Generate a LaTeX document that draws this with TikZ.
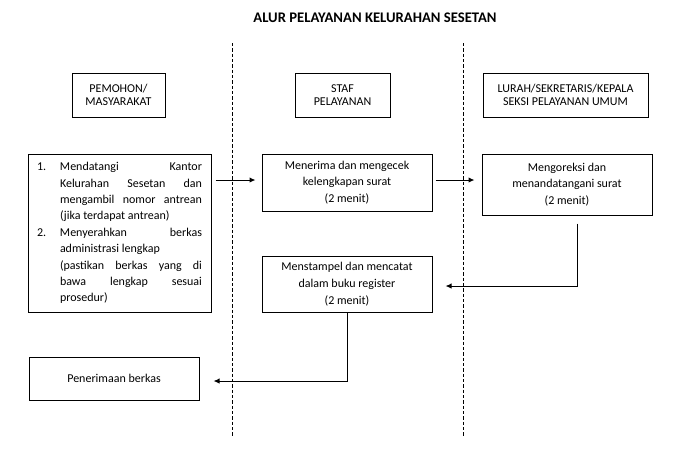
\documentclass[tikz,border=0pt]{standalone}
\usepackage{fontspec}
\setmainfont{Carlito}
\usetikzlibrary{arrows.meta,calc}
\begin{document}
\begin{tikzpicture}[x=0.75pt,y=-0.75pt,
  box/.style={draw, line width=0.75pt, inner sep=0pt, align=center, font=\fontsize{9}{12.6}\selectfont},
  head/.style={box, font=\fontsize{9}{10.2}\selectfont},
  lane/.style={line width=0.75pt, dash pattern=on 2.5pt off 1.5pt},
  arr/.style={line width=0.75pt, -{Latex[length=4.5pt,width=4pt]}}]
\useasboundingbox (0,0) rectangle (678,451);
\node[font=\fontsize{11}{13}\selectfont\bfseries] (title) at (375,18) {ALUR PELAYANAN KELURAHAN SESETAN};
\draw[lane] (232,43) -- (232,437);
\draw[lane] (463,43) -- (463,437);
\node[head, minimum width=69.75pt, minimum height=33pt] (h1) at (118.5,95) {PEMOHON/\\MASYARAKAT};
\node[head, minimum width=71.25pt, minimum height=33pt] (h2) at (342.5,95) {STAF\\PELAYANAN};
\node[head, minimum width=123.75pt, minimum height=33pt] (h3) at (565.5,95) {LURAH/SEKRETARIS/KEPALA\\SEKSI PELAYANAN UMUM};
\node[box, minimum width=137.25pt, minimum height=118.5pt, text width=123.75pt, align=justify,
      font=\fontsize{9}{12.3}\selectfont] (b1) at (119.5,233) {%
\hangindent=17.25pt\hangafter=1\noindent\hbox to 17.25pt{1.\hfil}Mendatangi Kantor\linebreak Kelurahan Sesetan dan\linebreak mengambil nomor antrean\linebreak (jika terdapat antrean)\par
\hangindent=17.25pt\hangafter=1\noindent\hbox to 17.25pt{2.\hfil}Menyerahkan berkas\linebreak administrasi lengkap\par
\hangindent=17.25pt\hangafter=0\noindent(pastikan berkas yang di\linebreak bawa lengkap sesuai\linebreak prosedur)\par};
\node[box, minimum width=127.5pt, minimum height=42.75pt] (b2) at (347,182.5) {Menerima dan mengecek\\kelengkapan surat\\(2 menit)};
\node[box, minimum width=127.5pt, minimum height=45.75pt] (b3) at (567,184.5) {Mengoreksi dan\\menandatangani surat\\(2 menit)};
\node[box, minimum width=127.5pt, minimum height=42pt] (b4) at (347,284) {Menstampel dan mencatat\\dalam buku register\\(2 menit)};
\node[box, minimum width=127.5pt, minimum height=32.25pt] (b5) at (114,378.5) {Penerimaan berkas};
\draw[arr] ($(b1.east |- b2.west)+(4,-2.5)$) -- ($(b2.west)+(-6,-2.5)$);
\draw[arr] ($(b2.east)+(3,-2.5)$) -- ($(b3.west |- b2.west)+(-7,-2.5)$);
\draw[arr] ($(b3.south)+(10,8)$) |- ($(b4.east)+(13,2)$);
\draw[arr] (b4.south) |- ($(b5.east)+(14,2.5)$);
\end{tikzpicture}
\end{document}
